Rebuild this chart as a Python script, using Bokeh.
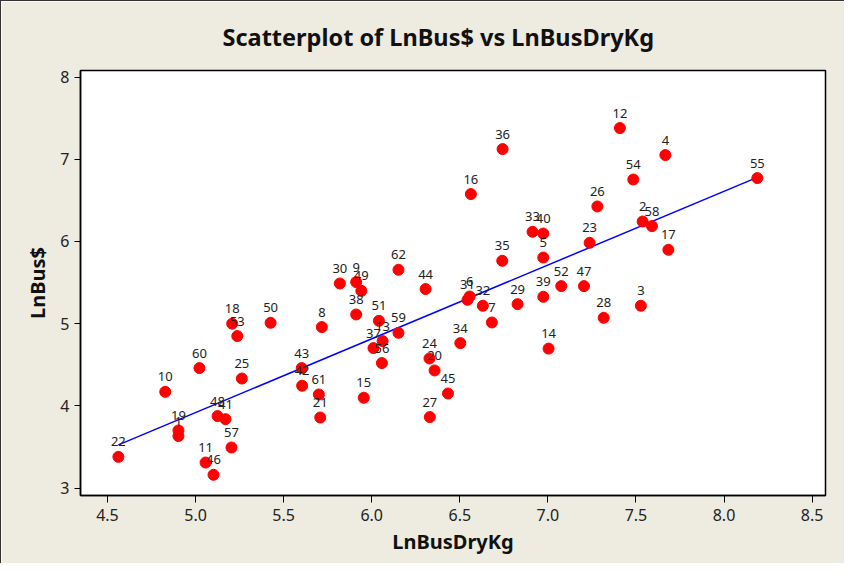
import numpy as np
from bokeh.plotting import figure
from bokeh.models import (Range1d, ColumnDataSource, LabelSet, FixedTicker,
                          PrintfTickFormatter)
from bokeh.core.properties import value
from bokeh.embed import file_html
from bokeh.resources import INLINE

# Observation numbers (point labels)
obs_ids = list(range(1, 63))

# LnBusDryKg (x) for observations 1..62
ln_bus_dry_kg = [
    4.903, 7.538, 7.528, 7.667, 6.974, 6.556, 6.682, 5.717, 5.912, 4.828,
    5.057, 7.409, 6.062, 7.004, 5.955, 6.563, 7.684, 5.208, 4.903, 6.357,
    5.708, 4.562, 7.237, 6.328, 5.263, 7.281, 6.330, 7.317, 6.828, 5.819,
    6.544, 6.631, 6.913, 6.503, 6.741, 6.743, 6.010, 5.912, 6.974, 6.974,
    5.170, 5.605, 5.603, 6.306, 6.433, 5.102, 7.205, 5.125, 5.941, 5.426,
    6.041, 7.076, 5.237, 7.485, 8.189, 6.058, 5.204, 7.591, 6.152, 5.022,
    5.700, 6.152,
]

# LnBus$ (y) for observations 1..62
ln_bus_dollars = [
    3.633, 6.243, 5.218, 7.051, 5.805, 5.331, 5.015, 4.959, 5.506, 4.171,
    3.311, 7.380, 4.788, 4.697, 4.099, 6.577, 5.899, 5.000, 3.701, 4.431,
    3.859, 3.380, 5.984, 4.577, 4.333, 6.426, 3.864, 5.072, 5.238, 5.489,
    5.291, 5.218, 6.118, 4.764, 5.765, 7.124, 4.703, 5.112, 5.327, 6.097,
    3.839, 4.245, 4.460, 5.421, 4.151, 3.162, 5.457, 3.876, 5.400, 5.011,
    5.035, 5.457, 4.849, 6.754, 6.771, 4.521, 3.494, 6.187, 4.889, 4.460,
    4.139, 5.656,
]

x_ticks = [4.5, 5.0, 5.5, 6.0, 6.5, 7.0, 7.5, 8.0, 8.5]
y_ticks = [3, 4, 5, 6, 7, 8]

TITLE = "Scatterplot of LnBus$ vs LnBusDryKg"
BG = "#EEEBE0"
FONT = "Noto Sans"

src = ColumnDataSource(dict(x=ln_bus_dry_kg, y=ln_bus_dollars,
                            lbl=[str(i) for i in obs_ids]))

# least-squares fitted line
xs = np.array(ln_bus_dry_kg)
ys = np.array(ln_bus_dollars)
slope, intercept = np.polyfit(xs, ys, 1)
line_x = np.array([xs.min(), xs.max()])
line_y = intercept + slope * line_x

p = figure(width=844, height=563, output_backend="svg", toolbar_location=None,
           x_range=Range1d(4.347, 8.576), y_range=Range1d(2.910, 8.080),
           min_border_left=79, min_border_right=20, min_border_top=69,
           min_border_bottom=69)

p.background_fill_color = "white"
p.border_fill_color = BG
p.outline_line_color = "black"
p.outline_line_width = 1.5
p.xgrid.visible = False
p.ygrid.visible = False
p.styles = {"border-top": "1px solid #333333", "border-left": "1px solid #333333"}

p.title.text = TITLE
p.title.align = "left"
p.title.offset = 142
p.title.vertical_align = "top"
p.title.standoff = 32
p.title.text_font = FONT
p.title.text_font_size = "23.5px"
p.title.text_font_style = "bold"
p.title.text_color = "#111111"

for ax, ticks in ((p.xaxis, x_ticks), (p.yaxis, y_ticks)):
    ax.ticker = FixedTicker(ticks=ticks)
    ax.minor_tick_line_color = None
    ax.major_tick_in = 0
    ax.major_tick_out = 7
    ax.major_tick_line_color = "black"
    ax.axis_line_color = "black"
    ax.axis_line_width = 1.5
    ax.major_label_text_font = FONT
    ax.major_label_text_font_size = "16px"
    ax.major_label_text_color = "#222222"
    ax.axis_label_text_font = FONT
    ax.axis_label_text_font_size = "20px"
    ax.axis_label_text_font_style = "bold"
    ax.axis_label_text_color = "#111111"

p.xaxis.axis_label = "LnBusDryKg"
p.yaxis.axis_label = "LnBus$"
p.xaxis.formatter = PrintfTickFormatter(format="%.1f")
p.xaxis.major_label_standoff = 6
p.yaxis.major_label_standoff = 5
p.xaxis.axis_label_standoff = 4
p.yaxis.axis_label_standoff = 6
p.yaxis.major_tick_out = 6

p.line(line_x, line_y, line_color="#0000FF", line_width=1.5)
p.scatter("x", "y", source=src, size=11, fill_color="#FF0000",
          line_color="#FF0000")

labels = LabelSet(x="x", y="y", text="lbl", source=src, y_offset=15,
                  text_align="center", text_baseline="middle",
                  text_font=value(FONT), text_font_size="13px",
                  text_color="#222222")
p.add_layout(labels)

open("out.html", "w").write(file_html(p, INLINE))
